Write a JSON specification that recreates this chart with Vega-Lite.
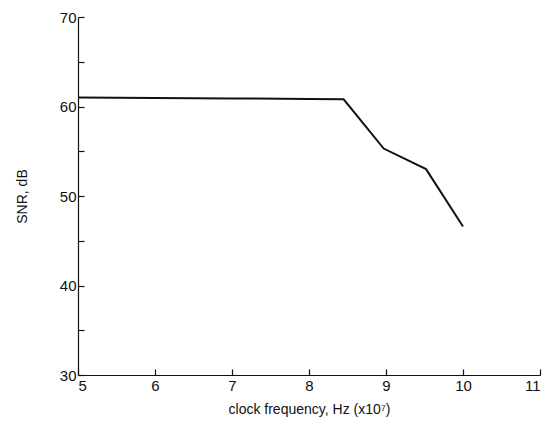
{
  "$schema": "https://vega.github.io/schema/vega-lite/v6.json",
  "width": 462,
  "height": 358,
  "autosize": {"type": "none"},
  "padding": {"left": 78, "top": 17, "right": 9, "bottom": 47},
  "background": "white",
  "config": {
    "view": {"stroke": null},
    "axis": {
      "labelFont": "Liberation Sans",
      "titleFont": "Liberation Sans",
      "labelFontSize": 15,
      "titleFontSize": 14,
      "titleFontWeight": "normal",
      "labelColor": "#111",
      "titleColor": "#111",
      "domainColor": "#111",
      "tickColor": "#111",
      "grid": false,
      "domainWidth": 1.2,
      "tickWidth": 1.2
    }
  },
  "data": {
    "values": [
      {"f": 5.0, "snr": 61.0},
      {"f": 6.0, "snr": 60.95},
      {"f": 7.0, "snr": 60.9},
      {"f": 8.0, "snr": 60.85},
      {"f": 8.45, "snr": 60.8},
      {"f": 8.97, "snr": 55.3},
      {"f": 9.52, "snr": 53.0},
      {"f": 10.0, "snr": 46.6}
    ]
  },
  "mark": {"type": "line", "color": "#111", "strokeWidth": 2},
  "encoding": {
    "x": {
      "field": "f",
      "type": "quantitative",
      "scale": {"domain": [5, 11], "nice": false},
      "axis": {
        "title": "clock frequency, Hz (x10⁷)",
        "values": [5, 6, 7, 8, 9, 10, 11],
        "tickSize": -6,
        "labelPadding": 9,
        "titlePadding": 9
      }
    },
    "y": {
      "field": "snr",
      "type": "quantitative",
      "scale": {"domain": [30, 70], "nice": false, "zero": false},
      "axis": {
        "title": "SNR, dB",
        "values": [30, 35, 40, 45, 50, 55, 60, 65, 70],
        "labelExpr": "datum.value % 10 === 0 ? datum.label : ''",
        "tickSize": -6,
        "labelPadding": 8,
        "titlePadding": 30
      }
    }
  }
}
